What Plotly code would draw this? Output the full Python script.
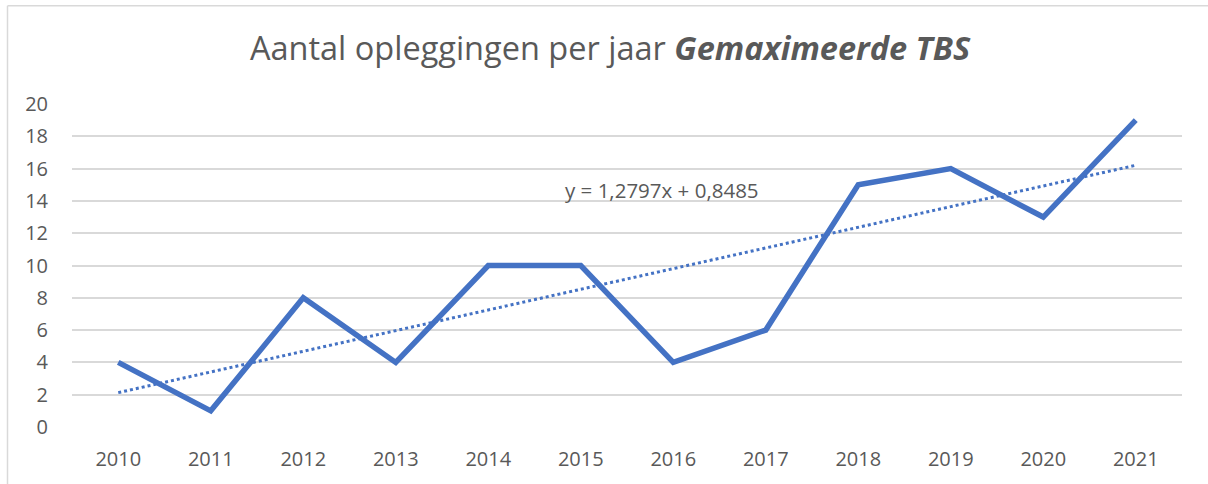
import numpy as np
import plotly.graph_objects as go

years = ["2010", "2011", "2012", "2013", "2014", "2015", "2016", "2017", "2018", "2019", "2020", "2021"]
counts = [4, 1, 8, 4, 10, 10, 4, 6, 15, 16, 13, 19]
y_ticks = [0, 2, 4, 6, 8, 10, 12, 14, 16, 18, 20]
trend_label = "y = 1,2797x + 0,8485"
title_plain = "Aantal opleggingen per jaar "
title_bold = "Gemaximeerde TBS"

# linear trendline (least squares, x = 1..n like Excel)
xi = np.arange(1, len(counts) + 1)
slope, intercept = np.polyfit(xi, counts, 1)
trend = slope * xi + intercept

FONT = "Open Sans"
GREY = "#595959"
BLUE = "#4472C4"

fig = go.Figure()
fig.add_trace(go.Scatter(x=years, y=trend.tolist(), mode="lines",
                         line=dict(color=BLUE, width=3, dash="dot"),
                         hoverinfo="skip", showlegend=False))
fig.add_trace(go.Scatter(x=years, y=counts, mode="lines",
                         line=dict(color=BLUE, width=5.5),
                         showlegend=False))

PH = 427.3 - 103.5
PW = 1182 - 72
top_y = (427.3 - 5) / PH
left_x = (7.5 - 72) / PW

fig.update_layout(
    width=1208, height=484,
    margin=dict(l=72, r=26, t=103.5, b=56.7),
    paper_bgcolor="white", plot_bgcolor="white",
    font=dict(family=FONT, color=GREY),
    title=dict(text=title_plain + "<b><i>" + title_bold + "</i></b>",
               x=0.505, xanchor="center", y=0.9, yanchor="middle",
               font=dict(family=FONT, size=32.5, color=GREY)),
    xaxis=dict(type="category", range=[-0.5, 11.5], showgrid=False,
               showline=False, zeroline=False, ticks="",
               tickfont=dict(size=20, color=GREY), ticklabelstandoff=18),
    yaxis=dict(range=[0, 20], tickvals=y_ticks, showgrid=True,
               gridcolor="#d9d9d9", gridwidth=1.5, zeroline=False,
               showline=False, ticks="",
               tickfont=dict(size=20, color=GREY), ticklabelstandoff=23),
    annotations=[dict(x=5.88, y=14.66, xref="x", yref="y", text=trend_label,
                      showarrow=False, font=dict(family=FONT, size=20.5, color=GREY))],
    shapes=[
        dict(type="line", xref="paper", yref="paper",
             x0=left_x, x1=1.2, y0=top_y, y1=top_y,
             line=dict(color="#d9d9d9", width=1.5)),
        dict(type="line", xref="paper", yref="paper",
             x0=left_x, x1=left_x, y0=-0.3, y1=top_y,
             line=dict(color="#d9d9d9", width=1.5)),
    ],
)

fig.write_html("out.html", config={"displayModeBar": False},
               post_script="document.body.style.margin='0';document.body.style.overflow='hidden';")
